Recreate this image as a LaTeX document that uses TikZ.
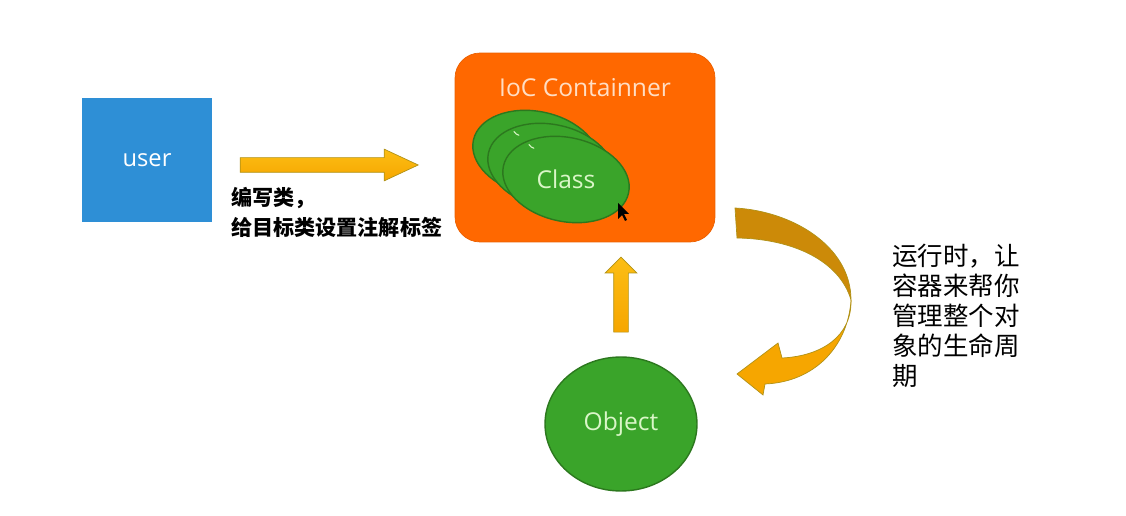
\documentclass[tikz,border=0pt]{standalone}
\usepackage{fontspec}
\setmainfont{Open Sans}
\newfontfamily\cjk{Noto Sans CJK SC}
\usetikzlibrary{calc}
\usetikzlibrary{shapes.geometric,shapes.arrows}
\definecolor{userblue}{RGB}{46,143,214}
\definecolor{iocorange}{RGB}{255,104,0}
\definecolor{iocpeach}{RGB}{255,222,196}
\definecolor{clsgreen}{RGB}{58,164,42}
\definecolor{clsedge}{RGB}{44,120,30}
\definecolor{clstext}{RGB}{218,246,200}
\definecolor{arrowfill}{RGB}{246,166,0}
\definecolor{arrowtop}{RGB}{252,190,20}
\definecolor{arrowedge}{RGB}{176,146,24}
\definecolor{ribbondark}{RGB}{204,138,8}

\tikzset{
 userbox/.style={rectangle, fill=userblue, text=white, minimum width=2.6cm, minimum height=2.48cm, font=\fontsize{13.5}{15}\selectfont},
 iocbox/.style={rectangle, rounded corners=0.5cm, fill=iocorange, draw=iocorange!92!black, minimum width=5.2cm, minimum height=3.78cm},
 ioctxt/.style={text=iocpeach, font=\fontsize{14}{16}\selectfont},
 clsfill/.style={fill=clsgreen, draw=clsedge, thick},
 clstxt/.style={text=clstext, font=\fontsize{14}{16}\selectfont},
 objnode/.style={ellipse, fill=clsgreen, draw=clsedge, thick, minimum width=3.04cm, minimum height=2.68cm, text=clstext, font=\fontsize{14}{16}\selectfont},
 blockarrow/.style={single arrow, top color=arrowtop, bottom color=arrowfill, draw=arrowedge, inner sep=0.14cm, single arrow head extend=0.17cm},
 cjktxt/.style={align=left, anchor=north west, inner sep=0pt}
}

\begin{document}
\begin{tikzpicture}[x=0.02cm, y=-0.02cm]
\useasboundingbox (0,0) rectangle (1126,516);
\node[userbox] (user) at (147,160) {user};
\node[iocbox] (ioc) at (585,147.5) {};
\node[ioctxt] (ioctitle) at ($(ioc.north)+(0,35)$) {IoC Containner};
% three stacked classes, only the front one keeps its label in view
\foreach \i [evaluate=\i as \dx using 15*\i, evaluate=\i as \dy using 13*\i] in {0,1,2} {
 \coordinate (c\i) at ($(ioc.center)+(-49+\dx,6+\dy)$);
 \draw[clsfill, rotate around={-12:(c\i)}] (c\i) ellipse (64 and 42);
}
\foreach \i in {0,1}
 \draw[clstext, semithick, line cap=round] ($(c\i)+(-22,-22)$) arc (150:105:8);
\node[clstxt] (cls) at (c2) {Class};
\fill[black] (618,203) -- ++(0,16) -- ++(4,-4) -- ++(3,6) -- ++(2,-1) -- ++(-3,-6) -- ++(5,0) -- cycle;
\node[objnode] (obj) at (621,424) {Object};

\node[blockarrow, minimum height=3.56cm, single arrow tip angle=50] (write) at ($(user.east)+(109,5)$) {};
\node[blockarrow, minimum height=1.5cm, single arrow tip angle=90, rotate=90] (inject) at ($(obj.north)+(0,-58)$) {};

% ribbon from container round to object
\filldraw[fill=ribbondark, draw=arrowedge] (735,208) .. controls (792,211) and (851,246) .. (851,300)
 .. controls (840,262) and (795,239) .. (737,238) -- cycle;
\filldraw[fill=arrowfill, draw=arrowedge] (851,300) .. controls (852,336) and (822,356) .. (782,358)
 -- (778,343) -- (737,374) -- (763,395) -- (765,384) .. controls (815,382) and (848,346) .. (851,300) -- cycle;

\node[cjktxt, font=\cjk\bfseries\fontsize{12}{17}\selectfont] (writetxt) at (231,187) {编写类，\\给目标类设置注解标签};
\node[cjktxt, font=\cjk\fontsize{14.5}{17}\selectfont] (runtxt) at (892,244) {运行时，让\\容器来帮你\\管理整个对\\象的生命周\\期};
\end{tikzpicture}
\end{document}
